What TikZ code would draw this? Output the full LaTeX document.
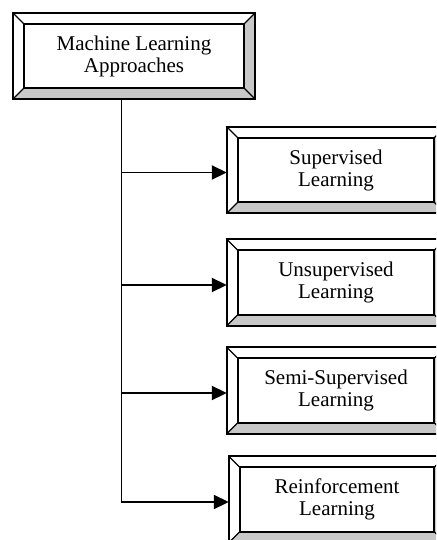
\documentclass[tikz,border=0pt]{standalone}
\usepackage{fontspec}
\setmainfont{Liberation Serif}
\usetikzlibrary{arrows.meta,calc}
\definecolor{bevelgray}{RGB}{200,200,200}
\newcommand\bevel[1]{%
  \fill[bevelgray] (#1.south west) -- (#1.south east) -- ([shift={(-11pt,11pt)}]#1.south east) -- ([shift={(11pt,11pt)}]#1.south west) -- cycle;
  \fill[bevelgray] (#1.north east) -- (#1.south east) -- ([shift={(-11pt,11pt)}]#1.south east) -- ([shift={(-11pt,-11pt)}]#1.north east) -- cycle;
  \draw[boxline] (#1.south west) rectangle (#1.north east);
  \draw[boxline] ([shift={(11pt,11pt)}]#1.south west) rectangle ([shift={(-11pt,-11pt)}]#1.north east);
  \draw[diag] (#1.south west) -- ([shift={(11pt,11pt)}]#1.south west);
  \draw[diag] (#1.north west) -- ([shift={(11pt,-11pt)}]#1.north west);
  \draw[diag] (#1.north east) -- ([shift={(-11pt,-11pt)}]#1.north east);
  \draw[diag] (#1.south east) -- ([shift={(-11pt,11pt)}]#1.south east);
}
\begin{document}
\begin{tikzpicture}[x=1pt,y=-1pt,
  bbox/.style={inner sep=0pt, align=center, font=\fontsize{21}{22}\selectfont, minimum height=86pt},
  boxline/.style={line width=1.9pt, line join=miter},
  diag/.style={line width=1.2pt},
  conn/.style={line width=1.9pt},
  arr/.style={line width=1.9pt, -{Triangle[length=15pt,width=14pt]}}]
\useasboundingbox (0,0) rectangle (436,540);
\clip (0,0) rectangle (436,540);
\fill[white] (0,0) rectangle (436,540);
\node[bbox, minimum width=242pt] (top) at (134,56) {Machine Learning\\Approaches};
\node[bbox, minimum width=218pt] (sup) at (336,170) {Supervised\\Learning};
\node[bbox, minimum width=218pt] (uns) at (336,282.5) {Unsupervised\\Learning};
\node[bbox, minimum width=218pt] (semi) at (336,390.5) {Semi-Supervised\\Learning};
\node[bbox, minimum width=216pt] (rl) at (337,499.5) {Reinforcement\\Learning};
\bevel{top}
\bevel{sup}
\bevel{uns}
\bevel{semi}
\bevel{rl}
\coordinate (tk) at ([xshift=-12.5pt]top.south);
\coordinate (a1) at ([yshift=-2.5pt]sup.west);
\coordinate (a2) at ([yshift=-2.5pt]uns.west);
\coordinate (a3) at ([yshift=-2.5pt]semi.west);
\coordinate (a4) at ([yshift=-2.5pt]rl.west);
\draw[conn] (tk) -- (tk |- a4);
\draw[arr] (tk |- a1) -- (a1);
\draw[arr] (tk |- a2) -- (a2);
\draw[arr] (tk |- a3) -- (a3);
\draw[arr] ([xshift=-0.95pt]tk |- a4) -- (a4);
\end{tikzpicture}
\end{document}
